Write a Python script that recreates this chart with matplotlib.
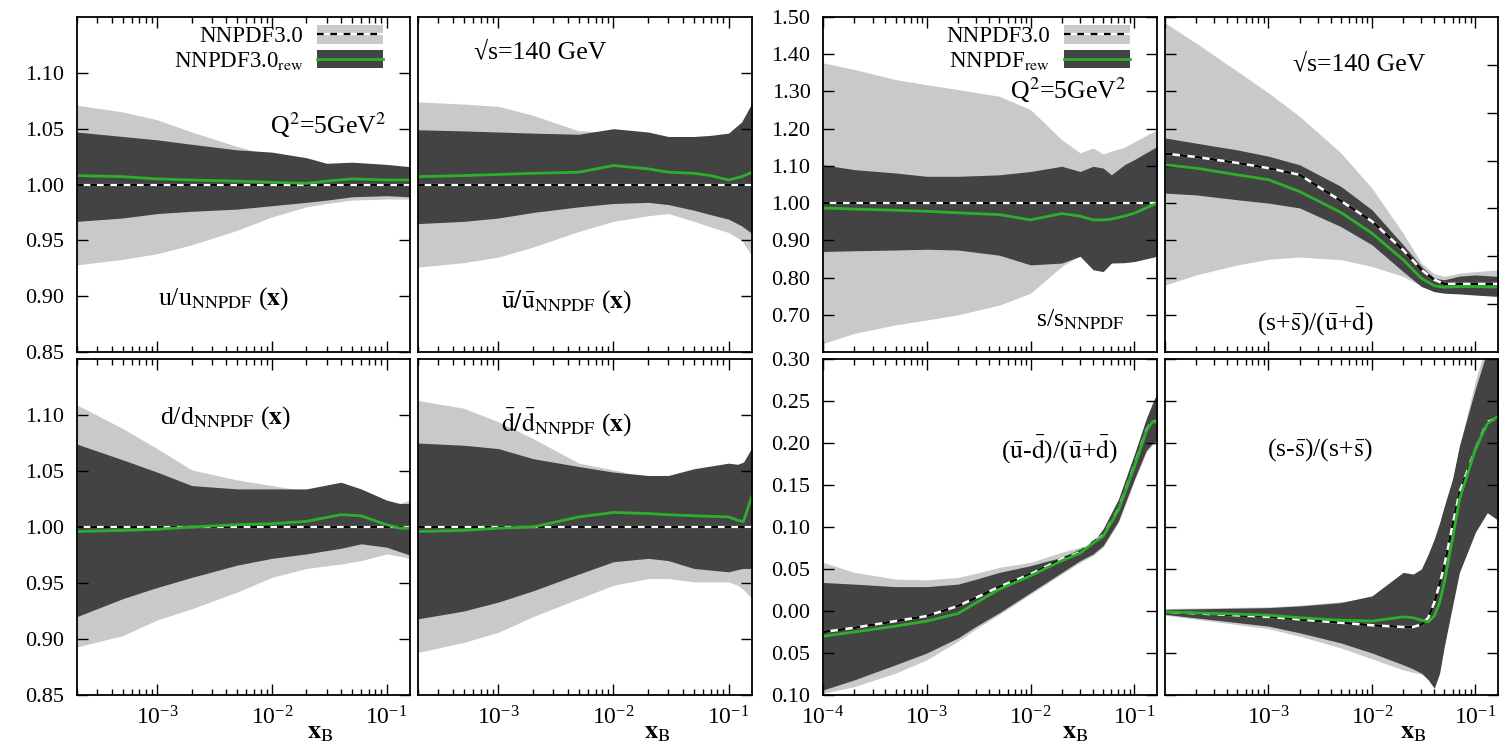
import numpy as np
import matplotlib
matplotlib.use("Agg")
import matplotlib.pyplot as plt
from matplotlib.patches import Patch
from matplotlib.lines import Line2D
from matplotlib.ticker import FuncFormatter, LogLocator, NullFormatter

plt.rcParams["font.family"] = ["Liberation Serif", "DejaVu Serif"]
plt.rcParams["mathtext.fontset"] = "stix"

LIGHT = "#c9c9c9"
DARK = "#434343"
GREEN = "#2cb02c"

# ---------------- data ----------------
# u / u_NNPDF
x_u = [2e-4, 5e-4, 1e-3, 2e-3, 5e-3, 1e-2, 2e-2, 3e-2, 5e-2, 1e-1, 1.6e-1]
u_lt_up = [1.071, 1.065, 1.058, 1.047, 1.034, 1.026, 1.021, 1.018, 1.017, 1.015, 1.014]
u_lt_lo = [0.928, 0.933, 0.938, 0.946, 0.959, 0.971, 0.980, 0.983, 0.986, 0.987, 0.987]
u_dk_up = [1.047, 1.043, 1.040, 1.036, 1.031, 1.029, 1.024, 1.019, 1.020, 1.018, 1.016]
u_dk_lo = [0.967, 0.970, 0.974, 0.976, 0.978, 0.981, 0.984, 0.986, 0.989, 0.990, 0.989]
u_rew = [1.008, 1.007, 1.005, 1.004, 1.003, 1.002, 1.001, 1.003, 1.005, 1.004, 1.004]

# ubar / ubar_NNPDF
x_ub = [2e-4, 5e-4, 1e-3, 2e-3, 5e-3, 1e-2, 2e-2, 3e-2, 5e-2, 7e-2, 1e-1, 1.3e-1, 1.6e-1]
ub_lt_up = [1.074, 1.072, 1.070, 1.062, 1.048, 1.047, 1.044, 1.040, 1.040, 1.041, 1.043, 1.053, 1.070]
ub_lt_lo = [0.926, 0.930, 0.935, 0.944, 0.958, 0.967, 0.972, 0.974, 0.967, 0.962, 0.957, 0.950, 0.936]
ub_dk_up = [1.049, 1.048, 1.047, 1.046, 1.045, 1.050, 1.047, 1.043, 1.043, 1.044, 1.046, 1.056, 1.073]
ub_dk_lo = [0.965, 0.967, 0.970, 0.975, 0.980, 0.983, 0.984, 0.982, 0.977, 0.973, 0.969, 0.963, 0.956]
ub_rew = [1.007, 1.008, 1.009, 1.010, 1.011, 1.017, 1.014, 1.011, 1.010, 1.008, 1.004, 1.007, 1.011]

# d / d_NNPDF
x_d = [2e-4, 5e-4, 1e-3, 2e-3, 5e-3, 1e-2, 2e-2, 4e-2, 6e-2, 1e-1, 1.3e-1, 1.6e-1]
d_lt_up = [1.109, 1.088, 1.070, 1.051, 1.042, 1.037, 1.032, 1.037, 1.032, 1.022, 1.021, 1.024]
d_lt_lo = [0.893, 0.903, 0.917, 0.927, 0.942, 0.955, 0.963, 0.967, 0.970, 0.976, 0.974, 0.972]
d_dk_up = [1.074, 1.060, 1.049, 1.037, 1.034, 1.034, 1.034, 1.040, 1.034, 1.024, 1.021, 1.021]
d_dk_lo = [0.920, 0.936, 0.946, 0.955, 0.966, 0.972, 0.976, 0.981, 0.985, 0.982, 0.978, 0.975]
d_rew = [0.996, 0.997, 0.998, 1.000, 1.002, 1.003, 1.005, 1.011, 1.010, 1.002, 0.999, 0.999]

# dbar / dbar_NNPDF
x_db = [2e-4, 5e-4, 1e-3, 2e-3, 5e-3, 1e-2, 2e-2, 3e-2, 5e-2, 1e-1, 1.2e-1, 1.35e-1, 1.6e-1]
db_lt_up = [1.113, 1.106, 1.094, 1.079, 1.057, 1.051, 1.044, 1.044, 1.050, 1.055, 1.054, 1.055, 1.068]
db_lt_lo = [0.888, 0.897, 0.906, 0.920, 0.936, 0.948, 0.954, 0.954, 0.951, 0.951, 0.948, 0.944, 0.936]
db_dk_up = [1.075, 1.073, 1.070, 1.061, 1.054, 1.049, 1.046, 1.046, 1.052, 1.057, 1.056, 1.058, 1.071]
db_dk_lo = [0.918, 0.925, 0.933, 0.943, 0.958, 0.969, 0.972, 0.970, 0.963, 0.960, 0.962, 0.963, 0.963]
db_rew = [0.996, 0.997, 0.999, 1.000, 1.009, 1.013, 1.012, 1.011, 1.010, 1.009, 1.006, 1.005, 1.028]

# s / s_NNPDF
x_s = [1e-4, 2e-4, 5e-4, 1e-3, 2e-3, 5e-3, 1e-2, 2e-2, 3e-2, 4e-2, 5e-2, 6e-2, 8e-2, 1e-1, 1.65e-1]
s_lt_up = [1.377, 1.359, 1.332, 1.318, 1.305, 1.287, 1.251, 1.170, 1.135, 1.148, 1.132, 1.140, 1.150, 1.165, 1.197]
s_lt_lo = [0.623, 0.650, 0.673, 0.686, 0.700, 0.726, 0.758, 0.830, 0.860, 0.830, 0.825, 0.845, 0.850, 0.850, 0.862]
s_dk_up = [1.103, 1.090, 1.081, 1.072, 1.072, 1.076, 1.085, 1.099, 1.085, 1.099, 1.094, 1.076, 1.103, 1.117, 1.152]
s_dk_lo = [0.870, 0.872, 0.874, 0.876, 0.874, 0.860, 0.834, 0.839, 0.857, 0.821, 0.816, 0.839, 0.840, 0.843, 0.857]
s_rew = [0.987, 0.984, 0.981, 0.978, 0.974, 0.969, 0.955, 0.972, 0.965, 0.955, 0.955, 0.957, 0.965, 0.973, 1.000]

# (s+sbar)/(ubar+dbar)
x_r = [1e-4, 2e-4, 5e-4, 1e-3, 2e-3, 5e-3, 1e-2, 2e-2, 3e-2, 4e-2, 5e-2, 7e-2, 1e-1, 1.7e-1]
r_lt_up = [1.484, 1.430, 1.354, 1.296, 1.233, 1.135, 1.040, 0.919, 0.839, 0.810, 0.803, 0.812, 0.816, 0.821]
r_lt_lo = [0.780, 0.807, 0.834, 0.849, 0.855, 0.848, 0.830, 0.803, 0.778, 0.765, 0.762, 0.760, 0.758, 0.755]
r_dk_up = [1.175, 1.161, 1.143, 1.126, 1.103, 1.045, 0.982, 0.888, 0.830, 0.798, 0.794, 0.804, 0.807, 0.803]
r_dk_lo = [1.027, 1.022, 1.009, 1.000, 0.987, 0.937, 0.888, 0.816, 0.776, 0.762, 0.758, 0.756, 0.753, 0.749]
r_ref = [1.133, 1.124, 1.108, 1.094, 1.076, 1.006, 0.951, 0.874, 0.821, 0.794, 0.783, 0.783, 0.783, 0.783]
r_rew = [1.103, 1.094, 1.076, 1.063, 1.031, 0.975, 0.919, 0.848, 0.798, 0.778, 0.774, 0.776, 0.776, 0.774]

# (ubar-dbar)/(ubar+dbar)
x_a = [1e-4, 2e-4, 5e-4, 1e-3, 2e-3, 3e-3, 5e-3, 1e-2, 2e-2, 3e-2, 4e-2, 5e-2, 7e-2, 1e-1, 1.3e-1, 1.5e-1, 1.65e-1]
a_lt_up = [0.058, 0.046, 0.038, 0.037, 0.040, 0.045, 0.052, 0.058, 0.070, 0.076, 0.080, 0.096, 0.131, 0.185, 0.227, 0.245, 0.256]
a_lt_lo = [-0.098, -0.090, -0.074, -0.058, -0.036, -0.021, -0.004, 0.020, 0.044, 0.058, 0.066, 0.076, 0.105, 0.155, 0.189, 0.198, 0.200]
a_dk_up = [0.034, 0.032, 0.029, 0.029, 0.032, 0.038, 0.046, 0.054, 0.064, 0.074, 0.082, 0.098, 0.133, 0.187, 0.229, 0.248, 0.259]
a_dk_lo = [-0.094, -0.082, -0.064, -0.050, -0.032, -0.018, -0.002, 0.022, 0.046, 0.060, 0.068, 0.078, 0.107, 0.157, 0.191, 0.200, 0.203]
a_ref = [-0.025, -0.020, -0.012, -0.006, 0.006, 0.016, 0.029, 0.044, 0.062, 0.070, 0.082, 0.090, 0.121, 0.173, 0.215, 0.227, 0.225]
a_rew = [-0.030, -0.025, -0.018, -0.012, -0.003, 0.010, 0.026, 0.042, 0.060, 0.069, 0.081, 0.089, 0.120, 0.172, 0.214, 0.226, 0.224]

# (s-sbar)/(s+sbar)
x_m = [1e-4, 1e-3, 2e-3, 5e-3, 1e-2, 2e-2, 2.5e-2, 3e-2, 3.5e-2, 4e-2, 4.5e-2, 5e-2, 6e-2, 7e-2, 1e-1, 1.3e-1, 1.7e-1]
m_lt_up = [0.003, 0.005, 0.007, 0.011, 0.016, 0.040, 0.042, 0.048, 0.066, 0.084, 0.103, 0.123, 0.155, 0.195, 0.275, 0.320, 0.345]
m_lt_lo = [-0.005, -0.021, -0.030, -0.044, -0.057, -0.070, -0.073, -0.075, -0.078, -0.070, -0.055, -0.030, 0.010, 0.050, 0.100, 0.121, 0.112]
m_dk_up = [0.002, 0.004, 0.006, 0.010, 0.018, 0.046, 0.044, 0.050, 0.068, 0.086, 0.105, 0.125, 0.157, 0.197, 0.265, 0.310, 0.340]
m_dk_lo = [-0.004, -0.018, -0.026, -0.038, -0.050, -0.064, -0.069, -0.074, -0.082, -0.092, -0.074, -0.042, 0.006, 0.046, 0.094, 0.117, 0.107]
m_ref = [-0.001, -0.007, -0.010, -0.014, -0.017, -0.019, -0.019, -0.016, -0.008, 0.010, 0.032, 0.054, 0.102, 0.141, 0.193, 0.225, 0.231]
m_rew = [-0.001, -0.005, -0.008, -0.011, -0.012, -0.007, -0.008, -0.011, -0.013, -0.006, 0.010, 0.034, 0.086, 0.133, 0.193, 0.223, 0.233]

# ---------------- layout ----------------
W, H = 1501, 746
fig = plt.figure(figsize=(W / 100, H / 100), dpi=100)

col_left = [77, 418, 823, 1165]
col_width = [333, 334, 334, 333]
row_top = [17, 359]
row_height = [335, 336]

FS = 16        # y tick labels
FSX = 17       # x tick labels
FSL = 16.5     # legend
FST = 18.5     # annotations


def make_ax(r, c):
    l, w = col_left[c], col_width[c]
    t, h = row_top[r], row_height[r]
    return fig.add_axes([l / W, 1 - (t + h) / H, w / W, h / H])


def style_ax(ax, xlim, ylim, yticks, ylabels, xlabels, left_ticks=True, right_ticks=True):
    ax.set_xscale("log")
    ax.set_xlim(*xlim)
    ax.set_ylim(*ylim)
    ax.set_yticks(yticks)
    ax.yaxis.set_major_formatter(FuncFormatter(lambda v, p: f"{abs(v):.2f}"))
    ax.xaxis.set_major_locator(LogLocator(base=10, numticks=10))
    ax.xaxis.set_minor_locator(LogLocator(base=10, subs=np.arange(2, 10), numticks=10))
    ax.xaxis.set_minor_formatter(NullFormatter())
    ax.tick_params(axis="both", which="major", direction="in", length=8, width=1,
                   top=True, bottom=True, left=left_ticks, right=right_ticks,
                   labelleft=ylabels, labelbottom=xlabels)
    ax.tick_params(axis="y", pad=9, labelsize=FS)
    ax.tick_params(axis="x", pad=8, labelsize=FSX)
    ax.tick_params(axis="x", which="minor", direction="in", length=4, width=1, top=True, bottom=True)
    for sp in ax.spines.values():
        sp.set_linewidth(1.3)


def draw(ax, x, lt_up, lt_lo, dk_up, dk_lo, rew, ref=None):
    ax.fill_between(x, lt_lo, lt_up, color=LIGHT, lw=0)
    ax.fill_between(x, dk_lo, dk_up, color=DARK, lw=0)
    if ref is None:
        ax.axhline(1.0, color="white", lw=1.6)
        ax.axhline(1.0, color="black", lw=1.6, dashes=(3, 3))
    else:
        ax.plot(x, ref, color="white", lw=1.8)
        ax.plot(x, ref, color="black", lw=1.8, dashes=(3, 3))
    ax.plot(x, rew, color=GREEN, lw=2)


def add_legend(ax, label2):
    h1 = (Patch(fc=LIGHT, ec="none"),
          Line2D([], [], color="white", lw=1.6),
          Line2D([], [], color="black", lw=1.6, dashes=(3, 3)))
    h2 = (Patch(fc=DARK, ec="none"), Line2D([], [], color=GREEN, lw=2))
    ax.legend([h1, h2], ["NNPDF3.0", label2], loc="upper right",
              bbox_to_anchor=(0.92, 0.975), borderaxespad=0, borderpad=0,
              frameon=False, markerfirst=False, fontsize=FSL, handlelength=2.9,
              handleheight=0.85, labelspacing=0.12, handletextpad=0.6)


def txt(ax, x, y, s, fs=FST):
    ax.text(x, y, s, transform=ax.transAxes, ha="center", va="center", fontsize=fs)


XL = (2e-4, 0.16)
XR = (1e-4, 0.165)
yt_left = [0.85, 0.90, 0.95, 1.00, 1.05, 1.10]
yt_rtop = [0.7, 0.8, 0.9, 1.0, 1.1, 1.2, 1.3, 1.4, 1.5]
yt_rbot = [-0.10, -0.05, 0.0, 0.05, 0.10, 0.15, 0.20, 0.25, 0.30]
xb_label = r"$\mathbf{x}_{\mathrm{B}}$"

# top-left: u
ax = make_ax(0, 0)
draw(ax, x_u, u_lt_up, u_lt_lo, u_dk_up, u_dk_lo, u_rew)
style_ax(ax, XL, (0.85, 1.15), yt_left, True, False)
add_legend(ax, r"NNPDF3.0$_{\rm rew}$")
txt(ax, 0.754, 0.678, r"Q$^2$=5GeV$^2$")
txt(ax, 0.44, 0.158, r"u/u$_{\rm NNPDF}$ ($\mathbf{x}$)")

# top-second: ubar
ax = make_ax(0, 1)
draw(ax, x_ub, ub_lt_up, ub_lt_lo, ub_dk_up, ub_dk_lo, ub_rew)
style_ax(ax, XL, (0.85, 1.15), yt_left, False, False, left_ticks=False)
txt(ax, 0.365, 0.893, "√s=140 GeV")
txt(ax, 0.443, 0.15, r"$\bar{\mathrm{u}}/\bar{\mathrm{u}}_{\rm NNPDF}$ ($\mathbf{x}$)")

# bottom-left: d
ax = make_ax(1, 0)
draw(ax, x_d, d_lt_up, d_lt_lo, d_dk_up, d_dk_lo, d_rew)
style_ax(ax, XL, (0.85, 1.15), yt_left, True, True)
txt(ax, 0.447, 0.825, r"d/d$_{\rm NNPDF}$ ($\mathbf{x}$)")
txt(ax, 0.73, -0.113, xb_label, fs=19)

# bottom-second: dbar
ax = make_ax(1, 1)
draw(ax, x_db, db_lt_up, db_lt_lo, db_dk_up, db_dk_lo, db_rew)
style_ax(ax, XL, (0.85, 1.15), yt_left, False, True, left_ticks=False)
txt(ax, 0.443, 0.81, r"$\bar{\mathrm{d}}/\bar{\mathrm{d}}_{\rm NNPDF}$ ($\mathbf{x}$)")
txt(ax, 0.716, -0.113, xb_label, fs=19)

# top-third: s
ax = make_ax(0, 2)
draw(ax, x_s, s_lt_up, s_lt_lo, s_dk_up, s_dk_lo, s_rew)
style_ax(ax, XR, (0.6, 1.5), yt_rtop, True, False)
add_legend(ax, r"NNPDF$_{\rm rew}$")
txt(ax, 0.733, 0.782, r"Q$^2$=5GeV$^2$")
txt(ax, 0.77, 0.095, r"s/s$_{\rm NNPDF}$")

# top-fourth: (s+sbar)/(ubar+dbar)
ax = make_ax(0, 3)
draw(ax, x_r, r_lt_up, r_lt_lo, r_dk_up, r_dk_lo, r_rew, ref=r_ref)
style_ax(ax, XR, (0.6, 1.5), yt_rtop, False, False, left_ticks=False, right_ticks=False)
tw = ax.twinx()
tw.set_ylim(0, 7)
tw.set_yticks(range(1, 7))
tw.tick_params(direction="in", length=8, width=1, labelright=False)
for sp in tw.spines.values():
    sp.set_visible(False)
txt(ax, 0.584, 0.857, "√s=140 GeV")
txt(ax, 0.452, 0.09, r"(s+$\bar{\mathrm{s}}$)/($\bar{\mathrm{u}}$+$\bar{\mathrm{d}}$)")

# bottom-third: (ubar-dbar)/(ubar+dbar)
ax = make_ax(1, 2)
draw(ax, x_a, a_lt_up, a_lt_lo, a_dk_up, a_dk_lo, a_rew, ref=a_ref)
style_ax(ax, XR, (-0.10, 0.30), yt_rbot, True, True)
txt(ax, 0.707, 0.729, r"($\bar{\mathrm{u}}$-$\bar{\mathrm{d}}$)/($\bar{\mathrm{u}}$+$\bar{\mathrm{d}}$)")
txt(ax, 0.755, -0.113, xb_label, fs=19)

# bottom-fourth: (s-sbar)/(s+sbar)
ax = make_ax(1, 3)
draw(ax, x_m, m_lt_up, m_lt_lo, m_dk_up, m_dk_lo, m_rew, ref=m_ref)
style_ax(ax, XR, (-0.10, 0.30), yt_rbot, False, True)
ax.set_xticks([1e-3, 1e-2, 1e-1])
ax.xaxis.set_minor_locator(LogLocator(base=10, subs=np.arange(2, 10), numticks=10))
txt(ax, 0.464, 0.729, r"(s-$\bar{\mathrm{s}}$)/(s+$\bar{\mathrm{s}}$)")
txt(ax, 0.745, -0.113, xb_label, fs=19)

fig.savefig("out.png", dpi=100)
